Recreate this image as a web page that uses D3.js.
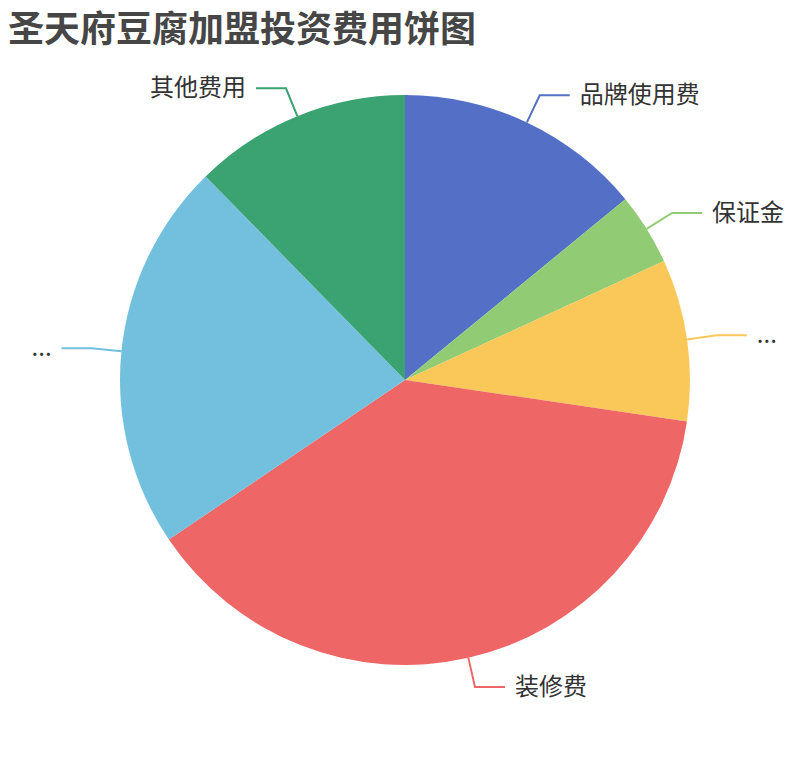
<!DOCTYPE html>
<html><head><meta charset="utf-8">
<script src="https://cdn.jsdelivr.net/npm/d3@7/dist/d3.min.js"></script>
<style>body{margin:0;background:#fff}svg{display:block}</style>
</head><body>
<svg id="c" width="810" height="760"></svg>
<script>
const categories = ["品牌使用费", "保证金", "...", "装修费", "...", "其他费用"];
const values = [6.9, 2.0, 4.5, 18.75, 10.85, 6.05];
const colors = ["#5470c6", "#91cc75", "#fac858", "#ee6666", "#73c0de", "#3ba272"];
const titleText = "圣天府豆腐加盟投资费用饼图";

const svg = d3.select("#c");
const W = 810, H = 760;
const cx = 405, cy = 380, R = 285, len1 = 30, len2 = 30, gap = 10;
const font = "'Noto Sans CJK SC','Noto Sans',sans-serif";

svg.append("text").attr("x", 8).attr("y", 42)
  .attr("font-family", font).attr("font-size", 36).attr("font-weight", "bold")
  .attr("fill", "#464646").text(titleText);

const data = categories.map((c, i) => ({name: c, value: values[i], color: colors[i]}));
const pie = d3.pie().value(d => d.value).sort(null);
const arcs = pie(data);
const arc = d3.arc().innerRadius(0).outerRadius(R);
const g = svg.append("g").attr("transform", `translate(${cx},${cy})`);

g.selectAll("path.s").data(arcs).join("path").attr("class", "s")
  .attr("d", arc).attr("fill", d => d.data.color);

const pt = (a, r) => [r * Math.sin(a), -r * Math.cos(a)];
arcs.forEach(d => {
  const m = (d.startAngle + d.endAngle) / 2;
  const p0 = pt(m, R), p1 = pt(m, R + len1);
  const right = Math.sin(m) >= 0;
  const p2 = [p1[0] + (right ? len2 : -len2), p1[1]];
  g.append("path")
    .attr("d", d3.line()([p0, p1, p2]))
    .attr("fill", "none").attr("stroke", d.data.color).attr("stroke-width", 2);
  g.append("text")
    .attr("x", p2[0] + (right ? gap : -gap)).attr("y", p2[1] - 3)
    .attr("text-anchor", right ? "start" : "end")
    .attr("dominant-baseline", "central")
    .attr("font-family", font).attr("font-size", 24).attr("fill", "#333")
    .text(d.data.name);
});
</script>
</body></html>
